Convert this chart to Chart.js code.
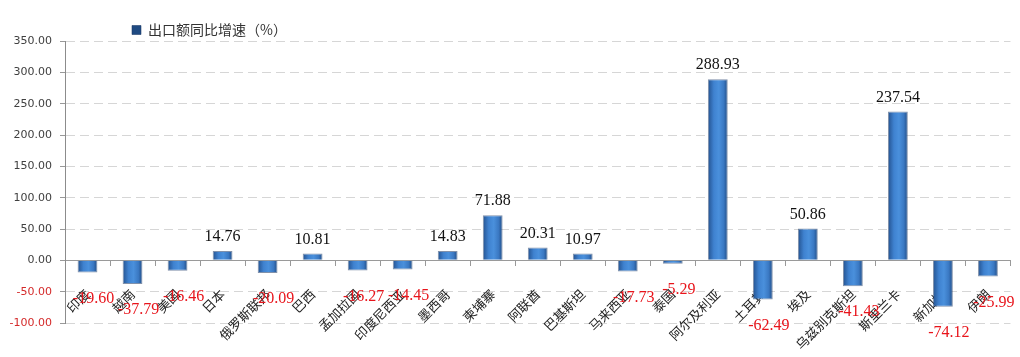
<!DOCTYPE html>
<html><head><meta charset="utf-8">
<script src="https://cdn.jsdelivr.net/npm/chart.js@4/dist/chart.umd.min.js"></script>
<style>html,body{margin:0;padding:0;background:#fff;}#wrap{width:1020px;height:357px;}</style>
</head><body><div id="wrap"><canvas id="c" width="1020" height="357"></canvas></div>
<script>
const categories = ['印度','越南','美国','日本','俄罗斯联邦','巴西','孟加拉国','印度尼西亚','墨西哥','柬埔寨','阿联酋','巴基斯坦','马来西亚','泰国','阿尔及利亚','土耳其','埃及','乌兹别克斯坦','斯里兰卡','新加坡','伊朗'];
const growth = [-19.60,-37.79,-16.46,14.76,-20.09,10.81,-16.27,-14.45,14.83,71.88,20.31,10.97,-17.73,-5.29,288.93,-62.49,50.86,-41.43,237.54,-74.12,-25.99];
const seriesName = '出口额同比增速（%）';
const yMin = -100, yMax = 350, yStep = 50;

const BAR_PCT = 0.44;

function barFill(c) {
  const chart = c.chart;
  const xs = chart.scales && chart.scales.x;
  if (c.dataIndex === undefined || !xs || !chart.chartArea) return '#3b78c2';
  const xc = xs.getPixelForValue(c.dataIndex);
  const w = (xs.width / categories.length) * BAR_PCT;
  const g = chart.ctx.createLinearGradient(xc - w / 2, 0, xc + w / 2, 0);
  g.addColorStop(0, '#24528f');
  g.addColorStop(0.3, '#3f82d0');
  g.addColorStop(0.55, '#4a90dc');
  g.addColorStop(0.8, '#3a78c2');
  g.addColorStop(1, '#1f4a82');
  return g;
}

const valueLabels = {
  id: 'valueLabels',
  afterDraw(chart) {
    const {ctx} = chart;
    const meta = chart.getDatasetMeta(0);
    ctx.save();
    ctx.font = '16px "Liberation Serif", "Times New Roman", serif';
    ctx.textAlign = 'center';
    ctx.textBaseline = 'middle';
    meta.data.forEach((bar, i) => {
      const v = growth[i];
      if (v >= 0) {
        ctx.fillStyle = '#111111';
        ctx.fillText(v.toFixed(2), bar.x, bar.y - 14);
      } else {
        ctx.fillStyle = '#e8141b';
        ctx.fillText(v.toFixed(2), bar.x + 6, bar.y + 26);
      }
    });
    ctx.restore();
  }
};

const legendShift = {
  id: 'legendShift',
  afterLayout(chart) {
    const lg = chart.legend;
    if (!lg) return;
    lg.left += 112; lg.right += 112;
    lg.top += 6; lg.bottom += 6;
  }
};

new Chart(document.getElementById('c'), {
  type: 'bar',
  data: {
    labels: categories,
    datasets: [{
      label: seriesName,
      data: growth,
      backgroundColor: barFill,
      borderColor: 'rgba(25,55,100,0.55)',
      borderWidth: 1,
      barPercentage: BAR_PCT,
      categoryPercentage: 1.0
    }]
  },
  options: {
    responsive: false,
    animation: false,
    devicePixelRatio: 1,
    layout: { padding: { left: 10, right: 1, top: 7, bottom: 34 } },
    plugins: {
      legend: {
        display: true,
        position: 'top',
        align: 'start',
        labels: {
          boxWidth: 9, boxHeight: 9, padding: 10,
          color: '#333333',
          font: { family: '"Noto Sans CJK SC", sans-serif', size: 14 }
        }
      },
      tooltip: { enabled: false }
    },
    scales: {
      x: {
        type: 'category',
        position: { y: 0 },
        z: 1,
        offset: true,
        grid: { display: true, drawOnChartArea: false, drawTicks: true, tickLength: 5, color: '#999999', offset: true },
        border: { display: true, color: '#9a9a9a', width: 1 },
        ticks: {
          autoSkip: false, minRotation: 45, maxRotation: 45, padding: 21,
          color: '#222222',
          font: { family: '"Noto Sans CJK SC", sans-serif', size: 13 }
        },
        afterFit(scale) { scale.height = 0; }
      },
      y: {
        min: yMin, max: yMax,
        grid: { color: '#d6d6d6', tickLength: 5, tickColor: '#999999', tickBorderDash: [] },
        border: { display: true, color: '#8c8c8c', width: 1, dash: [9, 5] },
        ticks: {
          stepSize: yStep, padding: 8,
          color: (c) => (c.tick && c.tick.value < 0 ? '#d42a2a' : '#404040'),
          font: { family: '"DejaVu Sans", sans-serif', size: 11 },
          callback: (v) => Number(v).toFixed(2)
        },
        afterFit(scale) { scale.width = 55; }
      }
    }
  },
  plugins: [valueLabels, legendShift]
});
</script>
</body></html>
